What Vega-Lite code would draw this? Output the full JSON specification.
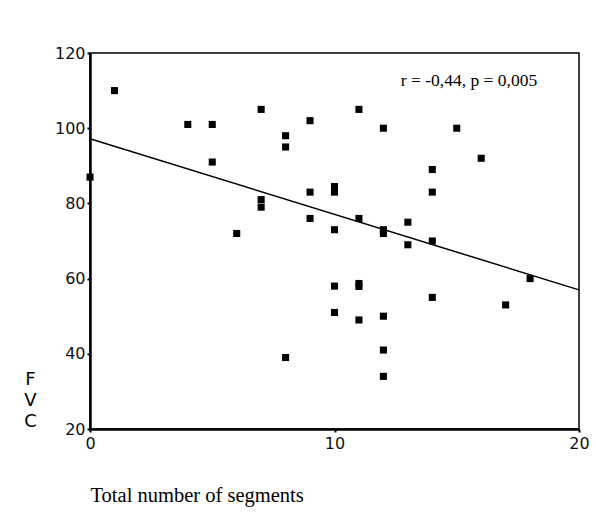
{
  "$schema": "https://vega.github.io/schema/vega-lite/v6.json",
  "autosize": {"type": "none"},
  "width": 489,
  "height": 376,
  "padding": {"left": 90, "top": 53, "right": 17, "bottom": 94},
  "background": "white",
  "config": {
    "view": {"stroke": "black", "strokeWidth": 1.5},
    "axis": {
      "grid": false,
      "domainColor": "black",
      "domainWidth": 2.5,
      "tickColor": "black",
      "tickSize": 3,
      "tickWidth": 2,
      "labelFont": "DejaVu Sans",
      "labelFontSize": 16,
      "labelColor": "#111",
      "labelFlush": false
    }
  },
  "datasets": {
    "pts": [
      {"seg": 0, "fvc": 87},
      {"seg": 1, "fvc": 110},
      {"seg": 4, "fvc": 101},
      {"seg": 5, "fvc": 101},
      {"seg": 5, "fvc": 91},
      {"seg": 6, "fvc": 72},
      {"seg": 7, "fvc": 105},
      {"seg": 7, "fvc": 81},
      {"seg": 7, "fvc": 79},
      {"seg": 8, "fvc": 98},
      {"seg": 8, "fvc": 95},
      {"seg": 8, "fvc": 39},
      {"seg": 9, "fvc": 102},
      {"seg": 9, "fvc": 83},
      {"seg": 9, "fvc": 76},
      {"seg": 10, "fvc": 84.5},
      {"seg": 10, "fvc": 83},
      {"seg": 10, "fvc": 73},
      {"seg": 10, "fvc": 58},
      {"seg": 10, "fvc": 51},
      {"seg": 11, "fvc": 105},
      {"seg": 11, "fvc": 76},
      {"seg": 11, "fvc": 58.7},
      {"seg": 11, "fvc": 57.9},
      {"seg": 11, "fvc": 49},
      {"seg": 12, "fvc": 100},
      {"seg": 12, "fvc": 73},
      {"seg": 12, "fvc": 72},
      {"seg": 12, "fvc": 50},
      {"seg": 12, "fvc": 41},
      {"seg": 12, "fvc": 34},
      {"seg": 13, "fvc": 75},
      {"seg": 13, "fvc": 69},
      {"seg": 14, "fvc": 89},
      {"seg": 14, "fvc": 83},
      {"seg": 14, "fvc": 70},
      {"seg": 14, "fvc": 55},
      {"seg": 15, "fvc": 100},
      {"seg": 16, "fvc": 92},
      {"seg": 17, "fvc": 53},
      {"seg": 18, "fvc": 60}
    ],
    "fit": [
      {"seg": 0, "fvc": 97.2},
      {"seg": 20, "fvc": 57}
    ],
    "note": [
      {"seg": 15.5, "fvc": 112.6, "label": "r = -0,44, p = 0,005"}
    ]
  },
  "layer": [
    {
      "data": {"name": "fit"},
      "mark": {"type": "line", "color": "black", "strokeWidth": 1.5},
      "encoding": {
        "x": {
          "field": "seg", "type": "quantitative",
          "scale": {"domain": [0, 20], "nice": false, "zero": false},
          "axis": {
            "values": [0, 10, 20],
            "title": "Total number of segments",
            "titleFont": "Liberation Serif",
            "titleFontSize": 20.5,
            "titleFontWeight": "normal",
            "titleColor": "black",
            "titleAnchor": "start",
            "titleAlign": "left",
            "titleX": 0,
            "titleY": 72,
            "titleBaseline": "alphabetic",
            "labelPadding": 3
          }
        },
        "y": {
          "field": "fvc", "type": "quantitative",
          "scale": {"domain": [20, 120], "nice": false, "zero": false},
          "axis": {
            "values": [20, 40, 60, 80, 100, 120],
            "title": ["F", "V", "C"],
            "titleFont": "DejaVu Sans",
            "titleFontSize": 18,
            "titleFontWeight": "normal",
            "titleColor": "black",
            "titleAngle": 0,
            "titleAlign": "center",
            "titleLineHeight": 21,
            "titleBaseline": "middle",
            "titleX": -60,
            "titleY": 326,
            "labelPadding": 2
          }
        }
      }
    },
    {
      "data": {"name": "pts"},
      "mark": {"type": "point", "shape": "square", "filled": true, "color": "black", "size": 50, "opacity": 1},
      "encoding": {
        "x": {"field": "seg", "type": "quantitative"},
        "y": {"field": "fvc", "type": "quantitative"}
      }
    },
    {
      "data": {"name": "note"},
      "mark": {"type": "text", "font": "Liberation Serif", "fontSize": 17.5, "color": "black", "align": "center", "baseline": "middle"},
      "encoding": {
        "x": {"field": "seg", "type": "quantitative"},
        "y": {"field": "fvc", "type": "quantitative"},
        "text": {"field": "label"}
      }
    }
  ]
}
